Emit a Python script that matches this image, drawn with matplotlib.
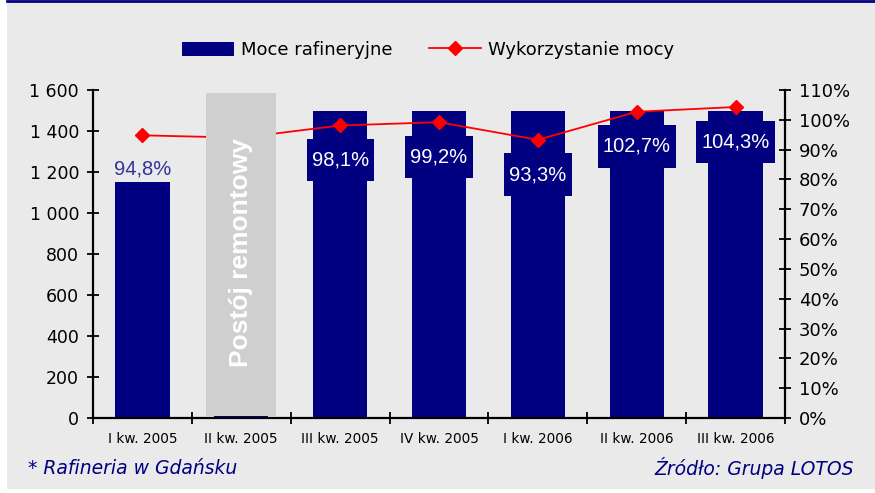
import numpy as np
import matplotlib
matplotlib.use("Agg")
import matplotlib.pyplot as plt
from matplotlib.patches import Rectangle, Patch
from matplotlib.lines import Line2D
from matplotlib.path import Path

# data
quarters = ["I kw. 2005", "II kw. 2005", "III kw. 2005", "IV kw. 2005",
            "I kw. 2006", "II kw. 2006", "III kw. 2006"]
capacity = [1150, 10, 1500, 1500, 1500, 1500, 1500]      # Moce rafineryjne
utilisation = [94.8, 94.0, 98.1, 99.2, 93.3, 102.7, 104.3]  # Wykorzystanie mocy, %
shutdown_idx = 1  # Postój remontowy

NAVY = "#000080"
RED = "#FF0000"
BG = "#EAEAEA"

fig = plt.figure(figsize=(8.75, 4.93), dpi=100)
fig.patch.set_facecolor("white")
fig.patches.append(Rectangle((7 / 875, 4 / 493), 1, 1, transform=fig.transFigure,
                             facecolor=BG, edgecolor="none", zorder=-10))
fig.add_artist(Line2D([7 / 875, 1], [0.998, 0.998], color=NAVY, lw=2))

ax = fig.add_axes([93 / 875, 1 - 418 / 493, 692 / 875, 328 / 493])
ax.set_facecolor(BG)
x = np.arange(len(quarters))
ax.bar(x, capacity, width=0.55, color=NAVY, zorder=2)
ax.set_xlim(-0.5, len(quarters) - 0.5)
ax.set_ylim(0, 1600)
ax.set_yticks(np.arange(0, 1601, 200))
ax.set_yticklabels([f"{v:,}".replace(",", " ") for v in range(0, 1601, 200)])
ax.set_xticks(np.arange(-0.5, len(quarters), 1))
ax.set_xticklabels([])
ax.set_xticks(x, minor=True)
ax.set_xticklabels(quarters, minor=True, fontsize=9.8)
ax.tick_params(axis="x", which="minor", length=0, pad=10)
ax.tick_params(axis="x", which="major", direction="inout", length=8, width=1.3)
ax.tick_params(axis="y", direction="inout", length=8, width=1.3, labelsize=12.5, pad=6)
for s in ["top", "right"]:
    ax.spines[s].set_visible(False)
for s in ["left", "bottom"]:
    ax.spines[s].set_linewidth(1.6)

ax2 = ax.twinx()
ax2.plot(x, utilisation, color=RED, lw=1.3, marker="D", markersize=7.5, zorder=3)
ax2.set_ylim(0, 110)
ax2.set_yticks(np.arange(0, 111, 10))
ax2.set_yticklabels([f"{v}%" for v in range(0, 111, 10)])
ax2.tick_params(axis="y", direction="inout", length=8, width=1.3, labelsize=13, pad=6)
for s in ["top", "left", "bottom"]:
    ax2.spines[s].set_visible(False)
ax2.spines["right"].set_linewidth(1.6)


def label_box(x0, y0, width, height, mutation_size):
    px = 0.25 * mutation_size
    py = 0.58 * mutation_size
    verts = [(x0 - px, y0 - py), (x0 + width + px, y0 - py),
             (x0 + width + px, y0 + height + py), (x0 - px, y0 + height + py),
             (x0 - px, y0 - py)]
    return Path(verts, closed=True)


for i, v in enumerate(utilisation):
    if i == shutdown_idx:
        continue
    txt = f"{v:.1f}%".replace(".", ",")
    if i == 0:
        ax2.annotate(txt, (i, v), xytext=(0, -24), textcoords="offset points",
                     ha="center", va="center", fontsize=14.5, color="#333399",
                     family="Liberation Sans", zorder=6)
    else:
        ax2.annotate(txt, (i, v), xytext=(0, -25), textcoords="offset points",
                     ha="center", va="center", fontsize=14.5, color="white",
                     family="Liberation Sans", zorder=6,
                     bbox=dict(boxstyle=label_box, fc=NAVY, ec="none"))

# shutdown overlay
ax2.add_patch(Rectangle((shutdown_idx - 0.355, 0.7), 0.71, 108.3,
                        facecolor="#CFCFCF", edgecolor="none", zorder=5))
ax2.text(shutdown_idx, 55.5, "Postój remontowy", rotation=90, ha="center", va="center",
         color="white", fontsize=19, fontweight="bold", family="Liberation Sans", zorder=6)

handles = [Patch(facecolor=NAVY, edgecolor="none"),
           Line2D([], [], color=RED, lw=1.3, marker="D", markersize=7.5)]
fig.legend(handles, ["Moce rafineryjne", "Wykorzystanie mocy"], loc="center",
           bbox_to_anchor=(428 / 875, 1 - 50 / 493), ncol=2, frameon=False,
           fontsize=13, handlelength=2.9, handleheight=0.8, handletextpad=0.4,
           columnspacing=2.0)

fig.text(28 / 875, 1 - 468 / 493, "* Rafineria w Gdańsku", color=NAVY, fontsize=13.5,
         style="italic", ha="left", va="center")
fig.text(854 / 875, 1 - 468 / 493, "Źródło: Grupa LOTOS", color=NAVY, fontsize=13.5,
         style="italic", ha="right", va="center")

fig.savefig("out.png", dpi=100, facecolor=fig.get_facecolor())
